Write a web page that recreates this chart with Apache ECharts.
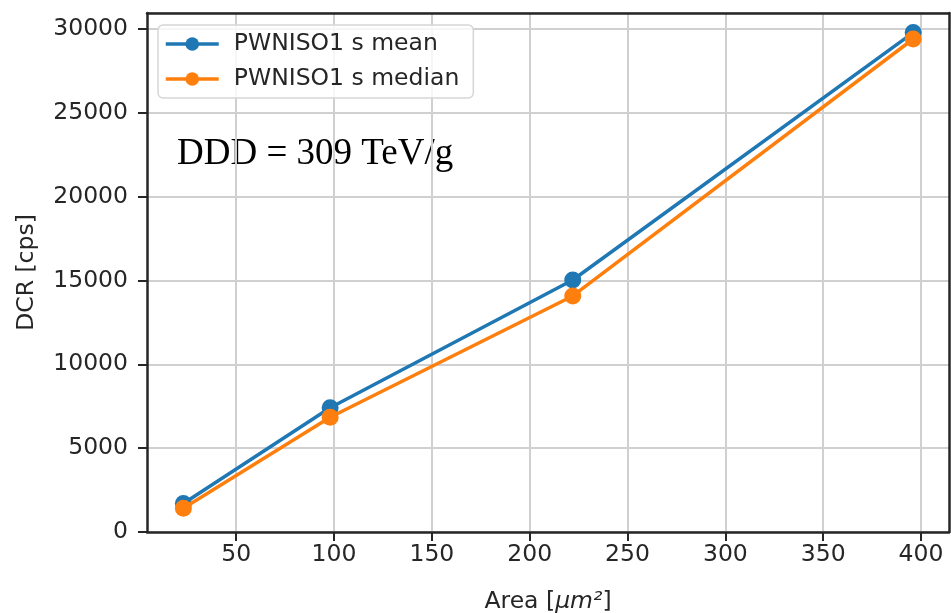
<!DOCTYPE html>
<html>
<head>
<meta charset="utf-8">
<script src="https://cdn.jsdelivr.net/npm/echarts@6/dist/echarts.min.js"></script>
<style>
html,body{margin:0;padding:0;background:#fff;}
#chart{width:951px;height:613px;}
</style>
</head>
<body>
<div id="chart"></div>
<script>
// Data
const areas = [23, 98, 222, 396];
const meanDCR = [1700, 7410, 15030, 29780];
const medianDCR = [1410, 6840, 14075, 29400];
const xTicks = [50, 100, 150, 200, 250, 300, 350, 400];
const seriesNames = ['PWNISO1 s mean', 'PWNISO1 s median'];
const annotation = 'DDD = 309 TeV/g';

const blue = '#1f77b4', orange = '#ff7f0e';
const font = 'DejaVu Sans';
const fs = 23.5;
const spine = {show: true, onZero: false, lineStyle: {color: '#262626', width: 2.5}};

const chart = echarts.init(document.getElementById('chart'), null, {renderer: 'canvas'});
const mk = (xs, ys) => xs.map((x, i) => [x, ys[i]]);

chart.setOption({
  animation: false,
  backgroundColor: '#fff',
  grid: {left: 147, right: 2, top: 13, bottom: 81, containLabel: false, outerBoundsMode: 'none'},
  legend: {
    orient: 'vertical', left: 158, top: 25,
    padding: [7, 14, 7, 6],
    itemGap: 11, itemWidth: 53, itemHeight: 17,
    borderColor: '#d6d6d6', borderWidth: 1.5, borderRadius: 5,
    backgroundColor: 'rgba(255,255,255,0.8)',
    lineStyle: {width: 3.5},
    textStyle: {fontFamily: font, fontSize: fs, color: '#262626', padding: [0, 0, 0, 10]},
    data: seriesNames
  },
  xAxis: [{
    type: 'value', min: 4.4, max: 414.3,
    name: 'Area [{i|μm²}]', nameLocation: 'middle', nameGap: 58,
    nameTextStyle: {fontFamily: font, fontSize: fs, color: '#262626',
      rich: {i: {fontFamily: font, fontSize: fs, fontStyle: 'italic', color: '#262626'}}},
    axisLine: spine,
    axisTick: {show: true, length: 9, lineStyle: {color: '#262626', width: 2}, customValues: xTicks},
    axisLabel: {fontFamily: font, fontSize: fs, color: '#262626', margin: 11, customValues: xTicks},
    splitLine: {show: true, lineStyle: {color: '#d0d0d0', width: 2}}
  }, {
    type: 'value', min: 4.4, max: 414.3, position: 'top',
    axisLine: spine, axisTick: {show: false}, axisLabel: {show: false}, splitLine: {show: false}
  }],
  yAxis: [{
    type: 'value', min: 0, max: 30950, interval: 5000,
    name: 'DCR [cps]', nameLocation: 'middle', nameGap: 108, nameRotate: 90,
    nameTextStyle: {fontFamily: font, fontSize: fs, color: '#262626'},
    axisLine: spine,
    axisTick: {show: true, length: 9, lineStyle: {color: '#262626', width: 2}},
    axisLabel: {fontFamily: font, fontSize: fs, color: '#262626', margin: 19, showMaxLabel: false,
      formatter: v => String(v)},
    splitLine: {show: true, lineStyle: {color: '#d0d0d0', width: 2}}
  }, {
    type: 'value', min: 0, max: 30950, position: 'right',
    axisLine: spine, axisTick: {show: false}, axisLabel: {show: false}, splitLine: {show: false}
  }],
  series: [
    {name: seriesNames[0], type: 'line', data: mk(areas, meanDCR), color: blue,
     symbol: 'circle', symbolSize: 17, lineStyle: {width: 3.5}, itemStyle: {color: blue}, z: 2},
    {name: seriesNames[1], type: 'line', data: mk(areas, medianDCR), color: orange,
     symbol: 'circle', symbolSize: 17, lineStyle: {width: 3.5}, itemStyle: {color: orange}, z: 3}
  ],
  graphic: [{
    type: 'text', left: 177, top: 136,
    style: {text: annotation, fontFamily: 'Liberation Serif', fontSize: 37, fill: '#000'}
  }]
});
</script>
</body>
</html>
